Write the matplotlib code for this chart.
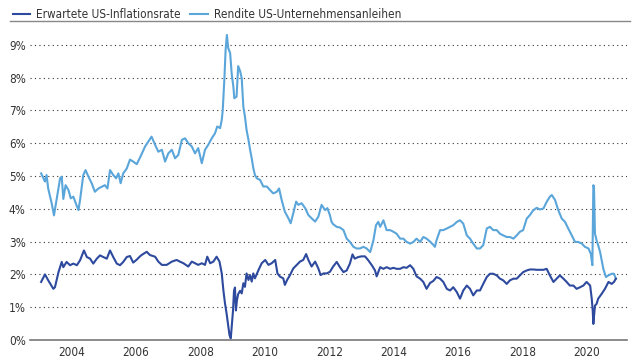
import numpy as np
import matplotlib
matplotlib.use("Agg")
import matplotlib.pyplot as plt
from matplotlib.lines import Line2D
from matplotlib import font_manager

# pick a condensed face if one is installed, else a plain sans
narrow = None
for f in font_manager.fontManager.ttflist:
    n = f.name.lower()
    st = str(f.stretch).lower()
    if f.style == 'normal' and f.weight in (400, 'normal', 'regular') and (
            'narrow' in n or 'condensed' in n or st in ('condensed', 'semi-condensed', '500', '600', '625')):
        narrow = f
        break

if narrow is not None:
    font_manager.fontManager.addfont(narrow.fname)
    plt.rcParams['font.family'] = [narrow.name, 'DejaVu Sans']
    plt.rcParams['font.stretch'] = narrow.stretch
    fsize, lsize = 8.5, 8.5
else:
    plt.rcParams['font.family'] = ['Liberation Sans', 'DejaVu Sans']
    fsize, lsize = 8, 7.5

# Erwartete US-Inflationsrate (%)
infl_t = [2003.05, 2003.17, 2003.27, 2003.43, 2003.48, 2003.59, 2003.69, 2003.74, 2003.84, 2003.95,
          2004.05, 2004.16, 2004.26, 2004.38, 2004.47, 2004.57, 2004.67, 2004.78, 2004.88, 2004.98,
          2005.09, 2005.19, 2005.29, 2005.40, 2005.50, 2005.60, 2005.71, 2005.81, 2005.91, 2006.02,
          2006.12, 2006.17, 2006.33, 2006.43, 2006.59, 2006.69, 2006.80, 2006.95, 2007.11, 2007.26,
          2007.36, 2007.47, 2007.62, 2007.73, 2007.83, 2007.93, 2008.04, 2008.14, 2008.21, 2008.30,
          2008.40, 2008.50, 2008.59, 2008.66, 2008.71, 2008.76, 2008.81, 2008.86, 2008.90, 2008.94,
          2008.97, 2009.01, 2009.04, 2009.07, 2009.10, 2009.13, 2009.17, 2009.23, 2009.28, 2009.33,
          2009.38, 2009.43, 2009.49, 2009.54, 2009.59, 2009.64, 2009.69, 2009.80, 2009.90, 2010.01,
          2010.11, 2010.21, 2010.32, 2010.39, 2010.47, 2010.57, 2010.62, 2010.69, 2010.78, 2010.88,
          2010.99, 2011.09, 2011.19, 2011.28, 2011.35, 2011.45, 2011.56, 2011.66, 2011.73, 2011.82,
          2011.92, 2012.02, 2012.12, 2012.23, 2012.33, 2012.44, 2012.54, 2012.64, 2012.72, 2012.79,
          2012.90, 2013.00, 2013.11, 2013.21, 2013.32, 2013.42, 2013.47, 2013.58, 2013.68, 2013.78,
          2013.89, 2013.99, 2014.09, 2014.20, 2014.30, 2014.40, 2014.51, 2014.61, 2014.71, 2014.82,
          2014.92, 2015.02, 2015.13, 2015.23, 2015.33, 2015.44, 2015.54, 2015.65, 2015.75, 2015.85,
          2015.96, 2016.06, 2016.16, 2016.27, 2016.37, 2016.47, 2016.58, 2016.68, 2016.78, 2016.89,
          2016.99, 2017.09, 2017.20, 2017.30, 2017.40, 2017.51, 2017.61, 2017.72, 2017.82, 2017.92,
          2018.02, 2018.13, 2018.23, 2018.34, 2018.44, 2018.54, 2018.65, 2018.75, 2018.85, 2018.96,
          2019.06, 2019.16, 2019.27, 2019.37, 2019.47, 2019.58, 2019.68, 2019.79, 2019.89, 2019.99,
          2020.10, 2020.15, 2020.18, 2020.20, 2020.25, 2020.30, 2020.35, 2020.46, 2020.56, 2020.67,
          2020.77, 2020.84, 2020.90]
infl_v = [1.77, 2.00, 1.82, 1.56, 1.61, 2.07, 2.38, 2.22, 2.38, 2.28,
          2.33, 2.28, 2.43, 2.73, 2.53, 2.48, 2.33, 2.48, 2.58, 2.53,
          2.48, 2.73, 2.53, 2.33, 2.28, 2.38, 2.53, 2.56, 2.36, 2.45,
          2.55, 2.59, 2.69, 2.59, 2.54, 2.39, 2.29, 2.29, 2.39, 2.44,
          2.39, 2.34, 2.24, 2.39, 2.34, 2.29, 2.34, 2.29, 2.54, 2.34,
          2.39, 2.54, 2.39, 2.03, 1.52, 1.12, 0.81, 0.45, 0.15, 0.05,
          0.40, 0.90, 1.50, 1.60, 0.90, 1.20, 1.40, 1.50, 1.42, 1.73,
          1.62, 2.03, 1.83, 1.98, 1.78, 2.03, 1.88, 2.13, 2.34, 2.44,
          2.29, 2.34, 2.44, 2.03, 1.93, 1.88, 1.68, 1.83, 1.98, 2.18,
          2.29, 2.39, 2.44, 2.62, 2.44, 2.24, 2.39, 2.18, 1.98, 2.03,
          2.03, 2.08, 2.24, 2.38, 2.22, 2.07, 2.12, 2.33, 2.61, 2.48,
          2.53, 2.55, 2.55, 2.43, 2.28, 2.12, 1.94, 2.22, 2.17, 2.22,
          2.17, 2.20, 2.17, 2.17, 2.22, 2.20, 2.28, 2.17, 1.94, 1.87,
          1.77, 1.56, 1.74, 1.80, 1.92, 1.87, 1.77, 1.56, 1.51, 1.61,
          1.46, 1.26, 1.51, 1.66, 1.56, 1.36, 1.51, 1.51, 1.71, 1.92,
          2.02, 2.02, 1.97, 1.87, 1.82, 1.71, 1.82, 1.87, 1.87, 1.97,
          2.07, 2.12, 2.15, 2.15, 2.14, 2.14, 2.14, 2.17, 1.97, 1.77,
          1.87, 1.97, 1.87, 1.77, 1.66, 1.66, 1.56, 1.61, 1.66, 1.77,
          1.66, 1.26, 0.90, 0.49, 1.05, 1.10, 1.26, 1.41, 1.56, 1.77,
          1.71, 1.77, 1.87]

# Rendite US-Unternehmensanleihen (%)
bond_t = [2003.05, 2003.17, 2003.22, 2003.27, 2003.38, 2003.45, 2003.53, 2003.64, 2003.69, 2003.74,
          2003.81, 2003.90, 2003.97, 2004.05, 2004.13, 2004.21, 2004.26, 2004.36, 2004.43, 2004.52,
          2004.62, 2004.72, 2004.83, 2004.93, 2005.03, 2005.11, 2005.19, 2005.29, 2005.38, 2005.45,
          2005.52, 2005.60, 2005.71, 2005.81, 2005.91, 2006.02, 2006.12, 2006.28, 2006.38, 2006.48,
          2006.59, 2006.69, 2006.80, 2006.90, 2007.00, 2007.11, 2007.21, 2007.31, 2007.42, 2007.52,
          2007.62, 2007.73, 2007.83, 2007.93, 2008.04, 2008.14, 2008.24, 2008.35, 2008.45, 2008.52,
          2008.61, 2008.66, 2008.69, 2008.74, 2008.78, 2008.82, 2008.86, 2008.92, 2008.97, 2009.02,
          2009.05, 2009.12, 2009.17, 2009.23, 2009.28, 2009.33, 2009.38, 2009.43, 2009.49, 2009.54,
          2009.59, 2009.64, 2009.69, 2009.75, 2009.85, 2009.95, 2010.06, 2010.16, 2010.26, 2010.37,
          2010.44, 2010.52, 2010.62, 2010.73, 2010.80, 2010.88, 2010.97, 2011.04, 2011.14, 2011.25,
          2011.35, 2011.45, 2011.56, 2011.66, 2011.76, 2011.87, 2011.94, 2012.02, 2012.07, 2012.12,
          2012.23, 2012.33, 2012.44, 2012.54, 2012.64, 2012.75, 2012.85, 2012.95, 2013.06, 2013.16,
          2013.27, 2013.37, 2013.45, 2013.52, 2013.58, 2013.68, 2013.78, 2013.89, 2013.99, 2014.09,
          2014.20, 2014.30, 2014.40, 2014.51, 2014.61, 2014.71, 2014.82, 2014.92, 2015.02, 2015.13,
          2015.23, 2015.28, 2015.33, 2015.44, 2015.54, 2015.65, 2015.75, 2015.85, 2015.96, 2016.06,
          2016.16, 2016.27, 2016.37, 2016.47, 2016.58, 2016.68, 2016.78, 2016.89, 2016.99, 2017.09,
          2017.20, 2017.30, 2017.40, 2017.51, 2017.61, 2017.72, 2017.82, 2017.92, 2018.02, 2018.13,
          2018.23, 2018.33, 2018.44, 2018.54, 2018.65, 2018.75, 2018.85, 2018.91, 2019.01, 2019.11,
          2019.22, 2019.32, 2019.42, 2019.53, 2019.63, 2019.73, 2019.84, 2019.94, 2020.05, 2020.12,
          2020.17, 2020.20, 2020.22, 2020.25, 2020.30, 2020.35, 2020.41, 2020.46, 2020.51, 2020.59,
          2020.67, 2020.77, 2020.84, 2020.90]
bond_v = [5.08, 4.83, 5.03, 4.62, 4.16, 3.80, 4.27, 4.93, 4.98, 4.30,
          4.72, 4.57, 4.32, 4.37, 4.16, 3.96, 4.27, 5.03, 5.18, 4.98,
          4.78, 4.52, 4.62, 4.67, 4.72, 4.62, 5.18, 5.03, 4.93, 5.08,
          4.78, 5.08, 5.23, 5.50, 5.44, 5.36, 5.56, 5.90, 6.05, 6.20,
          5.95, 5.74, 5.80, 5.44, 5.69, 5.80, 5.54, 5.64, 6.10, 6.15,
          6.00, 5.90, 5.69, 5.85, 5.39, 5.80, 5.95, 6.15, 6.30, 6.51,
          6.46, 6.71, 7.00, 7.93, 8.85, 9.30, 8.90, 8.75, 8.10, 7.73,
          7.37, 7.42, 8.35, 8.20, 7.98, 7.12, 6.81, 6.41, 6.10, 5.80,
          5.54, 5.24, 5.03, 4.93, 4.88, 4.68, 4.68, 4.57, 4.47, 4.52,
          4.62, 4.27, 3.91, 3.71, 3.56, 3.86, 4.22, 4.12, 4.17, 4.02,
          3.81, 3.71, 3.61, 3.76, 4.12, 3.96, 4.02, 3.80, 3.60, 3.53,
          3.45, 3.43, 3.35, 3.09, 2.99, 2.84, 2.79, 2.79, 2.84, 2.79,
          2.68, 3.04, 3.50, 3.60, 3.45, 3.65, 3.35, 3.35, 3.30, 3.24,
          3.09, 3.09, 2.99, 2.94, 2.99, 3.09, 2.99, 3.14, 3.09, 3.00,
          2.90, 2.84, 3.04, 3.35, 3.35, 3.40, 3.45, 3.50, 3.60, 3.65,
          3.55, 3.19, 3.09, 2.94, 2.79, 2.79, 2.89, 3.40, 3.45, 3.35,
          3.35, 3.24, 3.19, 3.14, 3.14, 3.09, 3.19, 3.30, 3.35, 3.70,
          3.81, 3.95, 4.03, 3.98, 4.01, 4.21, 4.37, 4.42, 4.27, 3.96,
          3.70, 3.60, 3.40, 3.19, 2.99, 2.99, 2.94, 2.84, 2.79, 2.63,
          2.28, 4.72, 4.67, 3.24, 3.04, 2.89, 2.68, 2.43, 2.17, 1.92,
          1.97, 2.02, 2.02, 1.87]

year_ticks = [2004, 2006, 2008, 2010, 2012, 2014, 2016, 2018, 2020]
pct_ticks = [0, 1, 2, 3, 4, 5, 6, 7, 8, 9]

dark = '#2E4A9E'
light = '#5AA5DA'

fig = plt.figure(figsize=(6.4, 3.6), dpi=100)
ax = fig.add_axes([30 / 640, 1 - 340 / 360, 597 / 640, 308 / 360])

ax.plot(infl_t, infl_v, color=dark, lw=1.5, label='Erwartete US-Inflationsrate', zorder=3)
ax.plot(bond_t, bond_v, color=light, lw=1.5, label='Rendite US-Unternehmensanleihen', zorder=2)

ax.set_xlim(2002.705, 2021.245)
ax.set_ylim(0, 308 / 32.8)
ax.set_xticks(year_ticks)
ax.set_xticklabels([str(y) for y in year_ticks])
ax.set_yticks(pct_ticks)
ax.set_yticklabels([f'{p}%' for p in pct_ticks])
ax.tick_params(length=0, labelsize=fsize, colors='#333333', pad=4)
ax.tick_params(axis='y', pad=3)

for s in ['top', 'right', 'left']:
    ax.spines[s].set_visible(False)
ax.spines['bottom'].set_color('#777777')
ax.spines['bottom'].set_linewidth(1.2)

for p in pct_ticks[1:]:
    ax.axhline(p, color='#333333', lw=0.8, ls=(0, (1, 3)), zorder=1)

fig.legend(loc='upper left', bbox_to_anchor=(5 / 640, 1.0), ncol=2, frameon=False,
           fontsize=lsize, handlelength=1.5, handletextpad=0.5, columnspacing=0.8,
           borderpad=0.15, labelcolor='#333333')
fig.add_artist(Line2D([10 / 640, 630 / 640], [1 - 20.7 / 360] * 2, color='#888888', lw=1.0))

fig.savefig('out.png', dpi=100)
